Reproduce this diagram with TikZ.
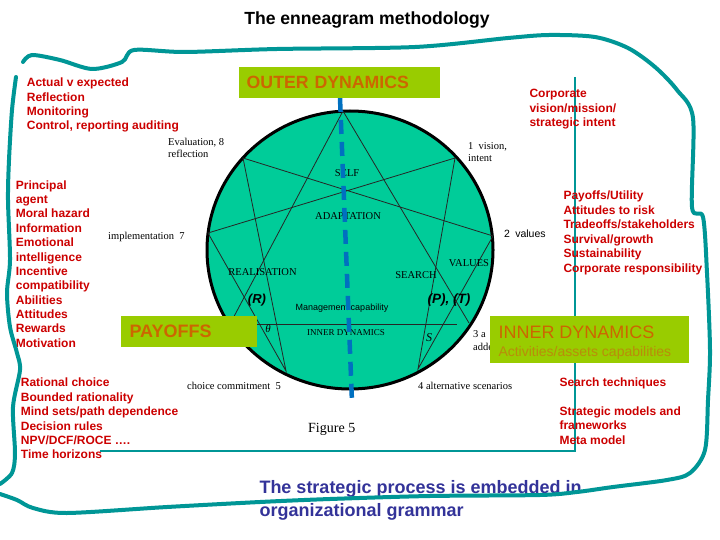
\documentclass[tikz,border=0pt]{standalone}
\usepackage{fontspec}
\setmainfont{Liberation Sans}
\newfontfamily\seriffont{Liberation Serif}
\definecolor{teal1}{RGB}{0,150,150}
\definecolor{circfill}{RGB}{0,204,153}
\definecolor{boxgreen}{RGB}{153,204,0}
\definecolor{orangetxt}{RGB}{204,102,0}
\definecolor{subtxt}{RGB}{185,140,10}
\definecolor{redtxt}{RGB}{204,0,0}
\definecolor{bluetxt}{RGB}{51,51,153}
\definecolor{dashblue}{RGB}{0,112,192}
\tikzset{
  redline/.style={text=redtxt, font=\bfseries\fontsize{12}{14}\selectfont, anchor=base west, inner sep=0pt},
  figlabel/.style={font=\seriffont\fontsize{10.5}{12}\selectfont, inner sep=0pt},
  outlabel/.style={font=\seriffont\fontsize{10.5}{12}\selectfont, inner sep=0pt, anchor=base west},
  figsans/.style={font=\fontsize{9}{11}\selectfont, inner sep=0pt},
  greenbox/.style={fill=boxgreen, inner sep=0pt},
  border/.style={draw=teal1, line width=4pt, line cap=round, line join=round},
  frameline/.style={draw=teal1, line width=1.1pt},
  chord/.style={draw=black!85, line width=0.8pt},
  bluetext/.style={text=bluetxt, font=\bfseries\fontsize{18}{20}\selectfont, anchor=base west, inner sep=0pt},
}
\begin{document}
\begin{tikzpicture}[x=1pt,y=-1pt]
\useasboundingbox (0,0) rectangle (720,540);
\fill[white] (0,0) rectangle (720,540);

% title
\node[font=\bfseries\fontsize{17.6}{20}\selectfont, anchor=base, inner sep=0pt] (title) at (367,25) {The enneagram methodology};

% thin frame of the figure
\coordinate (fa) at (575,77);
\coordinate (fb) at (575,451);
\coordinate (fc) at (100,451);
\draw[frameline] (fa) -- (fb) -- (fc);

% enneagram circle
\coordinate (cc) at (350,250);
\draw[fill=circfill, draw=black, line width=3pt] (cc) ellipse [x radius=143, y radius=139];

% points
\coordinate (p9) at (343,111);
\coordinate (p1) at (455,158);
\coordinate (p2) at (493,236);
\coordinate (p3) at (469,323);
\coordinate (p4) at (418,369);
\coordinate (p5) at (286,371);
\coordinate (p6) at (230,324);
\coordinate (p7) at (208,233);
\coordinate (p8) at (243,158);
\coordinate (h3) at (457,324);

\draw[chord] (p9) -- (p3);
\draw[chord] (p9) -- (p6);
\draw[chord] (p6) -- (h3);
\draw[chord] (p1) -- (p4) -- (p2) -- (p8) -- (p5) -- (p7) -- cycle;

% labels inside
\node[figlabel] (self) at (347,173) {SELF};
\node[figlabel] (adapt) at (348,216) {ADAPTATION};
\node[figlabel] (real) at (262.5,272) {REALISATION};
\node[figlabel] (search) at (416,275) {SEARCH};
\node[figlabel] (values) at (469,263) {VALUES};
\node[font=\bfseries\itshape\fontsize{13}{15}\selectfont, inner sep=0pt] (rlab) at (257,300) {(R)};
\node[font=\bfseries\itshape\fontsize{13.5}{15}\selectfont, inner sep=0pt] (ptlab) at (449,300) {(P), (T)};
\node[figsans] (mgmt) at (342,308) {Management capability};
\node[font=\seriffont\itshape\fontsize{11}{13}\selectfont, inner sep=0pt] (theta) at (268,329) {θ};
\node[font=\seriffont\fontsize{9}{11}\selectfont, inner sep=0pt] (innerdyn) at (346,333) {INNER DYNAMICS};
\node[font=\seriffont\itshape\fontsize{12}{14}\selectfont, inner sep=0pt] (slab) at (429,338) {S};

% labels outside
\node[outlabel] (eval) at (168,146) {Evaluation, 8};
\node[outlabel] (refl) at (168,157.5) {reflection};
\node[outlabel] (vis) at (468,150) {1\enspace vision,};
\node[outlabel] (intent) at (468,161.7) {intent};
\node[outlabel] (impl) at (108,240) {implementation\enspace 7};
\node[outlabel, font=\fontsize{10.5}{12}\selectfont] (val2) at (504,237.3) {2\enspace values};
\node[outlabel] (three) at (473,337.3) {3 a};
\node[outlabel] (adde) at (473,350) {adde};
\node[outlabel] (choice) at (187,389.3) {choice commitment\enspace 5};
\node[outlabel] (alt) at (418,389.3) {4 alternative scenarios};
\node[outlabel, font=\seriffont\fontsize{14}{16}\selectfont] (fig5) at (308,432.7) {Figure 5};

% dashed axis
\coordinate (dtop) at (340,98);
\coordinate (dbot) at (352,402);
\draw[draw=dashblue, line width=4.5pt, dash pattern=on 14pt off 8pt] (dtop) -- (dbot);

% green boxes
\node[greenbox, anchor=north west, minimum width=201.5pt, minimum height=31pt, inner xsep=8pt, text width=185.5pt, align=left, text=orangetxt, font=\bfseries\fontsize{17.7}{20}\selectfont] (outer) at (238.5,66.7) {OUTER DYNAMICS};
\node[greenbox, anchor=north west, minimum width=136pt, minimum height=30.7pt, inner xsep=8.6pt, text width=118.8pt, align=left, text=orangetxt, font=\bfseries\fontsize{18}{20}\selectfont] (payoffs) at (120.7,316) {PAYOFFS};
\node[greenbox, anchor=north west, minimum width=199pt, minimum height=46.7pt] (innerbox) at (490,316) {};
\node[anchor=base west, inner sep=0pt, text=orangetxt, font=\fontsize{18}{20}\selectfont] (innerlbl) at (498.3,338.3) {INNER DYNAMICS};
\node[anchor=base west, inner sep=0pt, text=subtxt, font=\fontsize{14}{16}\selectfont] (innersub) at (498.3,356) {Activities/assets capabilities};

% red text blocks
\foreach \t [count=\i from 0] in {Actual v expected, Reflection, Monitoring, {Control, reporting auditing}}
  \node[redline] (ra\i) at (26.7,{86.7+14.35*\i}) {\t};
\foreach \t [count=\i from 0] in {Principal, agent, Moral hazard, Information, Emotional, intelligence, Incentive, compatibility, Abilities, Attitudes, Rewards, Motivation}
  \node[redline] (rb\i) at (15.7,{189.3+14.34*\i}) {\t};
\foreach \t [count=\i from 0] in {Corporate, vision/mission/, strategic intent}
  \node[redline] (rc\i) at (529.3,{97.7+14.5*\i}) {\t};
\foreach \t [count=\i from 0] in {Payoffs/Utility, Attitudes to risk, Tradeoffs/stakeholders, Survival/growth, Sustainability, Corporate responsibility}
  \node[redline] (rd\i) at (563.3,{200+14.4*\i}) {\t};
\foreach \t [count=\i from 0] in {Rational choice, Bounded rationality, Mind sets/path dependence, Decision rules, NPV/DCF/ROCE …., Time horizons}
  \node[redline] (re\i) at (20.7,{386.7+14.45*\i}) {\t};
\node[redline] (rf0) at (559.3,386.7) {Search techniques};
\node[redline] (rf1) at (559.3,415.3) {Strategic models and};
\node[redline] (rf2) at (559.3,429.7) {frameworks};
\node[redline] (rf3) at (559.3,444) {Meta model};

% bottom statement
\node[bluetext] (bl1) at (259.3,493.3) {The strategic process is embedded in};
\node[bluetext] (bl2) at (259.3,516) {organizational grammar};

% hand-drawn teal border
\draw[border] plot[smooth, tension=0.5] coordinates {
  (23,62) (32,55) (60,60) (92,69) (122,62) (134,50) (185,52) (277,49) (415,47)
  (508,38) (549,35) (595,37) (628,48) (655,67) (677,90) (693,118) (692,207)
  (703,217) (707,273) (710,350) (708,400) (705,450) (690,473) (667,480)
  (613,487) (577,492) (540,495) (430,496) (330,499) (260,502) (167,507)
  (67,513) (33,508) (17,500) (0,494)};
\draw[border] plot[smooth, tension=0.5] coordinates {
  (16,77) (12,110) (9,160) (8,200) (10,260) (7,293) (10,327) (17,353)
  (20,370) (13,407) (15,453) (12,473) (0,484)};
\end{tikzpicture}
\end{document}
